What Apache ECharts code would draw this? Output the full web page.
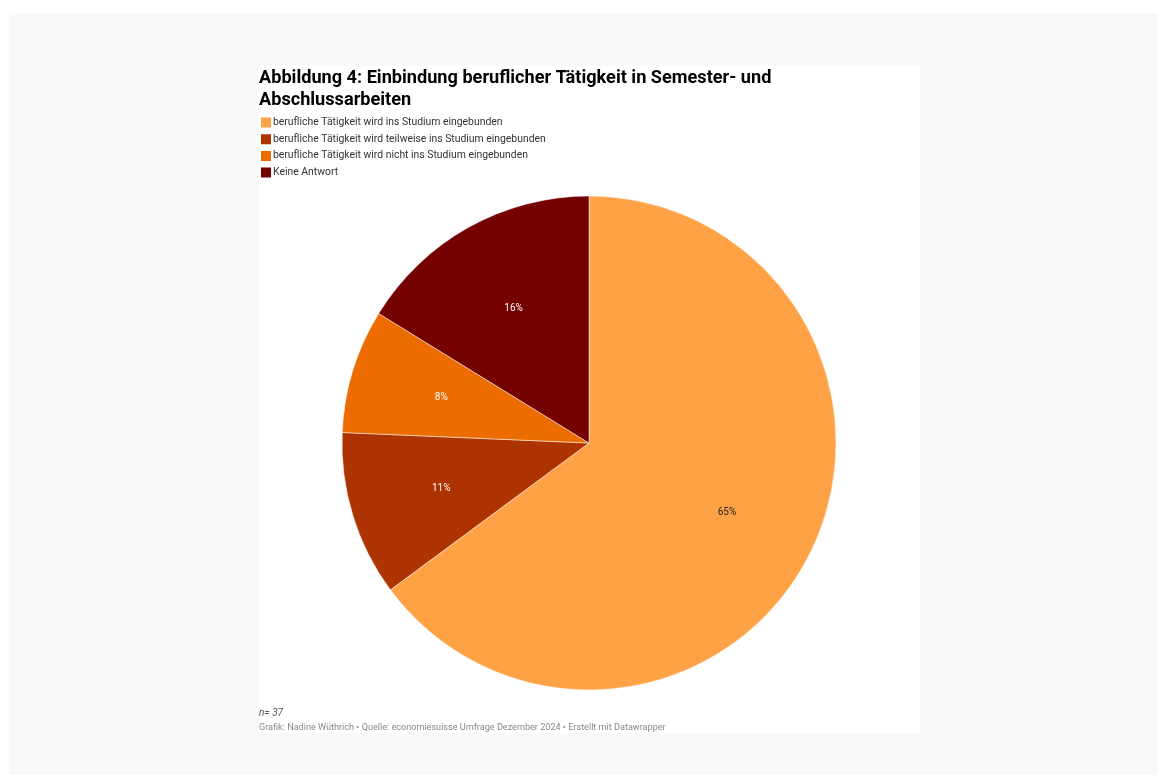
<!DOCTYPE html>
<html>
<head>
<meta charset="utf-8">
<script src="https://cdn.jsdelivr.net/npm/echarts@6/dist/echarts.min.js"></script>
<style>
html,body{margin:0;padding:0;background:#ffffff;}
#chart{width:1158px;height:775px;}
</style>
</head>
<body>
<div id="chart"></div>
<script>
const categories = [
  'berufliche Tätigkeit wird ins Studium eingebunden',
  'berufliche Tätigkeit wird teilweise ins Studium eingebunden',
  'berufliche Tätigkeit wird nicht ins Studium eingebunden',
  'Keine Antwort'
];
const counts = [24, 4, 3, 6];
const colors = ['#ffa245', '#ad3300', '#ec6c00', '#740000'];
const labelColors = ['#222222', '#ffffff', '#ffffff', '#ffffff'];
const titleText = 'Abbildung 4: Einbindung beruflicher Tätigkeit in Semester- und\nAbschlussarbeiten';
const noteText = 'n= 37';
const creditText = 'Grafik: Nadine Wüthrich • Quelle: economiesuisse Umfrage Dezember 2024 • Erstellt mit Datawrapper';

const chart = echarts.init(document.getElementById('chart'));
const total = counts.reduce((a, b) => a + b, 0);
const pieData = categories.map((c, i) => ({
  name: c, value: counts[i],
  itemStyle: { color: colors[i] }
}));
const labelData = categories.map((c, i) => ({
  name: c, value: counts[i],
  label: { color: labelColors[i] }
}));

chart.setOption({
  animation: false,
  textStyle: { fontFamily: 'Roboto' },
  graphic: [
    { type: 'rect', z: -10, silent: true, shape: { x: 9, y: 13, width: 1149, height: 762 }, style: { fill: '#f9f9f9' } },
    { type: 'rect', z: -9, silent: true, shape: { x: 259, y: 66, width: 661, height: 667 }, style: { fill: '#ffffff' } },
    { type: 'text', left: 259, top: 708, style: { text: noteText, fontFamily: 'Roboto', fontSize: 10, fontStyle: 'italic', fill: '#555555' } },
    { type: 'text', left: 259, top: 723, style: { text: creditText, fontFamily: 'Roboto', fontSize: 9.1, fill: '#888888' } }
  ],
  title: {
    text: titleText,
    left: 254, top: 62,
    textStyle: { fontFamily: 'Roboto', fontSize: 18.15, fontWeight: 'bold', color: '#000000', lineHeight: 22 }
  },
  legend: {
    orient: 'vertical',
    left: 259, top: 115.5,
    padding: 0,
    icon: 'rect',
    itemWidth: 12, itemHeight: 12,
    itemGap: 2.7,
    textStyle: { fontFamily: 'Roboto', fontSize: 10.4, color: '#333333', padding: [0, 0, 0, -4] },
    data: categories
  },
  series: [
    {
      type: 'pie',
      center: [589, 443],
      radius: [0, 247],
      startAngle: 90,
      clockwise: true,
      label: { show: false },
      labelLine: { show: false },
      itemStyle: { borderColor: '#ffffff', borderWidth: 0.5 },
      emphasis: { disabled: true },
      data: pieData
    },
    {
      type: 'pie',
      center: [589, 443],
      radius: [56, 247],
      startAngle: 90,
      clockwise: true,
      silent: true,
      legendHoverLink: false,
      itemStyle: { color: 'rgba(0,0,0,0)', borderWidth: 0 },
      label: {
        show: true,
        position: 'inside',
        fontFamily: 'Roboto',
        fontSize: 10,
        formatter: p => Math.round(p.value / total * 100) + '%'
      },
      labelLine: { show: false },
      emphasis: { disabled: true },
      data: labelData
    }
  ]
});
</script>
</body>
</html>
